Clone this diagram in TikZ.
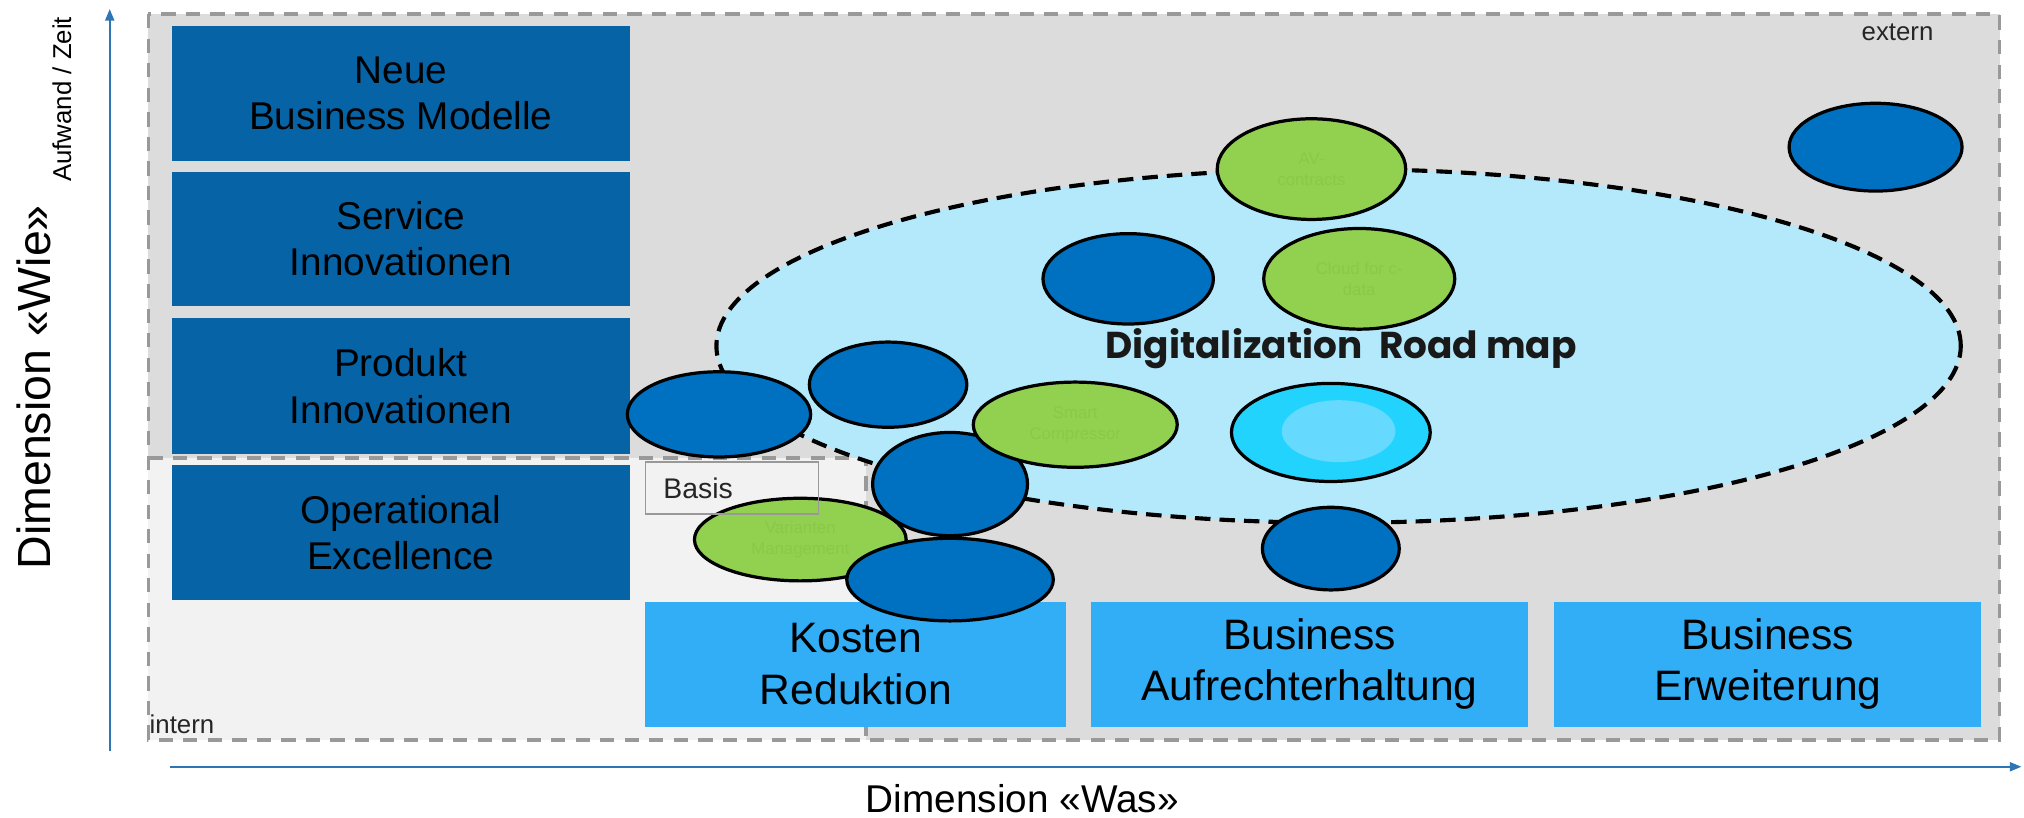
\documentclass[tikz,border=0pt]{standalone}
\usepackage{fontspec}
\setmainfont{Liberation Sans}
\newfontfamily\poppins{Poppins}
\usetikzlibrary{shapes.geometric,arrows.meta}
\definecolor{darkbox}{HTML}{0563A6}
\definecolor{lightbox}{HTML}{31AEF6}
\definecolor{eblue}{HTML}{0070C0}
\definecolor{egreen}{HTML}{92D050}
\definecolor{fgreen}{HTML}{8AC84A}
\definecolor{ecyan}{HTML}{22D4FD}
\definecolor{ecyanin}{HTML}{66D9FF}
\definecolor{roadfill}{HTML}{B4E9FB}
\definecolor{bggray}{HTML}{DCDCDC}
\definecolor{interngray}{HTML}{F2F2F2}
\definecolor{dashgray}{HTML}{999999}
\definecolor{axisblue}{HTML}{2E75B6}
\begin{document}
\begin{tikzpicture}[x=1pt,y=-1pt,
  leftbox/.style={rectangle, fill=darkbox, inner sep=0pt, minimum width=355pt, align=center, font=\fontsize{30}{36}\selectfont, text=black},
  botbox/.style={rectangle, fill=lightbox, inner sep=0pt, minimum height=97pt, align=center, font=\fontsize{33}{40}\selectfont, text=black},
  blob/.style={ellipse, draw=black, line width=2.5pt, inner sep=0pt, align=center, font=\fontsize{13}{16}\selectfont},
  gblob/.style={blob, fill=egreen, text=fgreen},
  bblob/.style={blob, fill=eblue},
  area/.style={draw=dashgray, line width=3pt, dash pattern=on 11pt off 8pt},
  axis/.style={draw=axisblue, line width=1.5pt, -{Triangle[length=9pt,width=7pt]}},
  small/.style={font=\fontsize{20}{24}\selectfont, text=black!85}
]
\useasboundingbox (0,0) rectangle (1568,633);
% areas
\fill[bggray] (115,11) rectangle (1549,573);
\fill[interngray] (115,355) rectangle (671,573);
\draw[area] (115,355) -- (671,355) -- (671,573);
\draw[area] (115,11) rectangle (1549,573);
% left boxes
\node[leftbox, minimum height=105pt] (neue) at (310.5,72.5) {Neue\\Business Modelle};
\node[leftbox, minimum height=104pt] (service) at (310.5,185) {Service\\Innovationen};
\node[leftbox, minimum height=106pt] (produkt) at (310.5,299) {Produkt\\Innovationen};
\node[leftbox, minimum height=105pt] (opex) at (310.5,412.5) {Operational\\Excellence};
% bottom boxes
\node[botbox, minimum width=326pt] (kosten) at (663,514.5) {Kosten\\Reduktion};
\node[botbox, minimum width=339pt] (aufrecht) at (1014.5,514.5) {Business\\Aufrechterhaltung};
\node[botbox, minimum width=331pt] (erweit) at (1369.5,514.5) {Business\\Erweiterung};
% road map ellipse
\node[ellipse, fill=roadfill, draw=black, line width=3.2pt, dash pattern=on 12pt off 7pt, minimum width=964pt, minimum height=274pt, inner sep=0pt] (road) at (1037,268) {};
\node[font=\poppins\bfseries\fontsize{29}{32}\selectfont, text=black!90] (roadtxt) at (1039,270) {Digitalization\hspace{0.45em}Road map};
% small ellipses
\node[bblob, minimum width=134pt, minimum height=68pt] (e1) at (1453,114) {};
\node[gblob, minimum width=146pt, minimum height=78pt] (e2) at (1016,131) {AV-\\contracts};
\node[bblob, minimum width=132pt, minimum height=70pt] (e3) at (874,216) {};
\node[gblob, minimum width=148pt, minimum height=78pt] (e4) at (1053,216) {Cloud for c-\\data};
\node[bblob, minimum width=122pt, minimum height=66pt] (e6) at (688,298) {};
\node[bblob, minimum width=142pt, minimum height=66pt] (e5) at (557,321) {};
\node[gblob, minimum width=164pt, minimum height=64pt] (e10) at (620,418) {Varianten\\Management};
\node[bblob, minimum width=120pt, minimum height=80pt] (e9) at (736,375) {};
\node[gblob, minimum width=158pt, minimum height=66pt] (e7) at (833,329) {Smart\\Compressor};
\node[bblob, minimum width=160pt, minimum height=64pt] (e11) at (736,449) {};
\node[blob, fill=ecyan, minimum width=154pt, minimum height=76pt] (e8) at (1031,335) {};
\node[ellipse, fill=ecyanin, minimum width=88pt, minimum height=48pt, inner sep=0pt] (e8in) at (1037,334) {};
\node[bblob, minimum width=106pt, minimum height=64pt] (e12) at (1031,425) {};
% basis box
\node[draw=dashgray, line width=1.2pt, minimum width=134pt, minimum height=40pt, inner sep=0pt, text width=106pt, align=left, font=\fontsize{22}{24}\selectfont, text=black!85] (basis) at (567,378) {Basis};
% labels
\node[small] (extern) at (1470,25) {extern};
\node[small] (intern) at (141,561) {intern};
% axes
\coordinate (vbot) at (85,582);
\coordinate (vtop) at (85,7);
\coordinate (hleft) at (132,594);
\coordinate (hright) at (1566,594);
\draw[axis] (vbot) -- (vtop);
\draw[axis] (hleft) -- (hright);
\node[font=\fontsize{36}{40}\selectfont, rotate=90] (wie) at (26,300) {Dimension «Wie»};
\node[font=\fontsize{20}{24}\selectfont, rotate=90] (aufwand) at (48,77) {Aufwand / Zeit};
\node[font=\fontsize{30}{34}\selectfont] (was) at (792,619) {Dimension «Was»};
\end{tikzpicture}
\end{document}
